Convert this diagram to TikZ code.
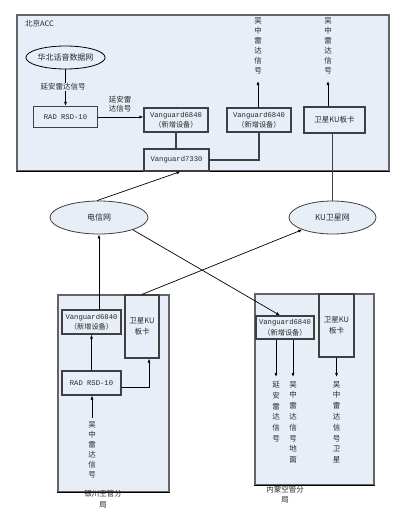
\documentclass[tikz,border=0pt]{standalone}
\usepackage{fontspec}
\setmainfont{Liberation Serif}
\newfontfamily\cjk{Noto Sans CJK SC}
\newfontfamily\monofnt{Liberation Mono}
\usetikzlibrary{shapes.geometric,arrows.meta}
\definecolor{bgblue}{RGB}{231,238,247}
\definecolor{edgec}{RGB}{64,64,64}
\definecolor{regc}{RGB}{100,100,100}
\definecolor{txt}{RGB}{40,40,40}
\begin{document}
\begin{tikzpicture}[x=1pt,y=-1pt,
 region/.style={draw=regc,line width=1.3pt,fill=bgblue,inner sep=0pt,rectangle},
 dev/.style={draw=edgec,line width=1.2pt,fill=bgblue,inner sep=0pt,rectangle,align=center,text=txt,font=\fontsize{7.2}{10.5}\selectfont},
 net/.style={ellipse,draw=edgec,line width=0.8pt,fill=bgblue,inner sep=0pt,text=txt,font=\cjk\fontsize{8}{9}\selectfont},
 arr/.style={-{Latex[length=4pt,width=3pt]},line width=0.7pt,black},
 link/.style={draw=edgec,line width=1.1pt},
 cn/.style={font=\cjk\fontsize{7.5}{9.5}\selectfont,text=txt},
 vcol/.style={align=center,inner sep=0pt,text=txt,font=\cjk\fontsize{7.5}{10}\selectfont},
 vcolb/.style={vcol,font=\cjk\fontsize{7.5}{10.8}\selectfont},
 mono/.style={font=\monofnt\fontsize{7.2}{9}\selectfont}
]
\useasboundingbox (0,0) rectangle (407,514);
\fill[white] (0,0) rectangle (407,514);

% ---------- Beijing ACC ----------
\node[region,minimum width=372,minimum height=156] (acc) at (203,93) {};
\draw[black,line width=1pt] (acc.south west) -- (acc.south east);
\node[cn,anchor=west,inner sep=0pt] (acclbl) at (25,24) {北京ACC};

\node[net,draw=black,minimum width=67,minimum height=23] (hb) at (65.5,57.5) {华北话音数据网};
\node[dev,minimum width=64,minimum height=21,mono] (rad1) at (65.5,117) {RAD RSD-10};
\draw[arr] (hb.south) -- (hb.south |- rad1.north);
\node[cn,fill=bgblue,inner sep=1pt] (l1) at (63,87) {延安雷达信号};

\node[dev,minimum width=64,minimum height=24] (v1) at (176,120) {{\monofnt Vanguard6840}\\{\cjk （新增设备）}};
\node[cn,align=center,inner sep=0pt] (l2) at (120,104) {延安雷\\达信号};
\draw[arr] (rad1.east) -- (rad1.east -| v1.west);

\node[dev,minimum width=65,minimum height=22] (v7330) at (176.5,160) {\monofnt Vanguard7330};
\node[dev,minimum width=64,minimum height=24] (v2) at (259,120) {{\monofnt Vanguard6840}\\{\cjk （新增设备）}};
\node[dev,minimum width=61,minimum height=26,font=\cjk\fontsize{7.5}{9}\selectfont] (ku1) at (334.5,120) {卫星KU板卡};

\draw[link] (v1.south) -- (v1.south |- v7330.north);
\draw[link] (v7330.east) -| (v2.south);

\node[vcol,anchor=north] (t1) at (258,17) {吴\\中\\雷\\达\\信\\号};
\node[vcol,anchor=north] (t2) at (328,17) {吴\\中\\雷\\达\\信\\号};
\coordinate (t1tip) at (258,81);
\coordinate (t2tip) at (328,81);
\draw[arr] (t1tip |- v2.north) -- (t1tip);
\draw[arr] (t2tip |- ku1.north) -- (t2tip);

% ---------- networks ----------
\node[net,minimum width=98,minimum height=33] (dx) at (99,217.5) {电信网};
\node[net,minimum width=87,minimum height=33] (ku) at (332.5,217.5) {KU卫星网};

\draw[link] (ku.north |- ku1.south) -- (ku.north);
\draw[arr] (dx.97) -- ([xshift=4pt]v7330.south);

% ---------- Yinchuan ----------
\node[region,minimum width=111,minimum height=197] (yc) at (113.5,393.5) {};
\draw[black,line width=1pt] (yc.south west) -- (yc.south east);
\node[dev,minimum width=59,minimum height=24] (yv) at (91.5,322) {{\monofnt Vanguard6840}\\{\cjk （新增设备）}};
\node[dev,minimum width=59,minimum height=24,mono] (yrad) at (91.5,383) {RAD RSD-10};
\node[dev,minimum width=34,minimum height=63,font=\cjk\fontsize{7.5}{11}\selectfont] (yku) at (142,326.5) {卫星KU\\板卡};
\node[vcol,anchor=north] (yt) at (92,421) {吴\\中\\雷\\达\\信\\号};
\coordinate (ytstart) at (92,418);
\coordinate (yc1) at (149,387);
\draw[arr] (ytstart) -- (ytstart |- yrad.south);
\draw[arr] (yrad.north) -- (yv.south);
\draw[arr] (yrad.east |- yc1) -- (yc1) -- (yc1 |- yku.south);
\draw[arr] (dx.south |- yv.north) -- (dx.south);
\draw[arr] (yku.north) -- (ku);
\node[cn,align=center,anchor=north,inner sep=0pt,font=\cjk\fontsize{7.5}{10.5}\selectfont] (yclbl) at (103,490) {银川空管分\\局};

% ---------- Inner Mongolia ----------
\node[region,minimum width=119,minimum height=191] (im) at (314.5,389.5) {};
\draw[black,line width=1pt] (im.south west) -- (im.south east);
\node[dev,minimum width=58,minimum height=23] (imv) at (285,327.5) {{\monofnt Vanguard6840}\\{\cjk （新增设备）}};
\node[dev,minimum width=35,minimum height=63,font=\cjk\fontsize{7.5}{11}\selectfont] (imku) at (336.5,325.5) {卫星KU\\板卡};
\node[vcolb,anchor=north] (imt1) at (276,381) {延\\安\\雷\\达\\信\\号};
\node[vcolb,anchor=north] (imt2) at (293,381) {吴\\中\\雷\\达\\信\\号\\地\\面};
\node[vcolb,anchor=north] (imt3) at (336.5,381) {吴\\中\\雷\\达\\信\\号\\卫\\星};
\coordinate (imtip1) at (276,377);
\coordinate (imtip2) at (293,377);
\coordinate (imtip3) at (336.5,377);
\draw[arr] (imtip1 |- imv.south) -- (imtip1);
\draw[arr] (imtip2 |- imv.south) -- (imtip2);
\draw[arr] (imku.south) -- (imtip3);
\draw[arr] (dx.-20) -- ([xshift=-5pt]imv.north);
\node[cn,align=center,anchor=north,inner sep=0pt,font=\cjk\fontsize{7.5}{10.5}\selectfont] (imlbl) at (285,485.5) {内蒙空管分\\局};
\end{tikzpicture}
\end{document}
